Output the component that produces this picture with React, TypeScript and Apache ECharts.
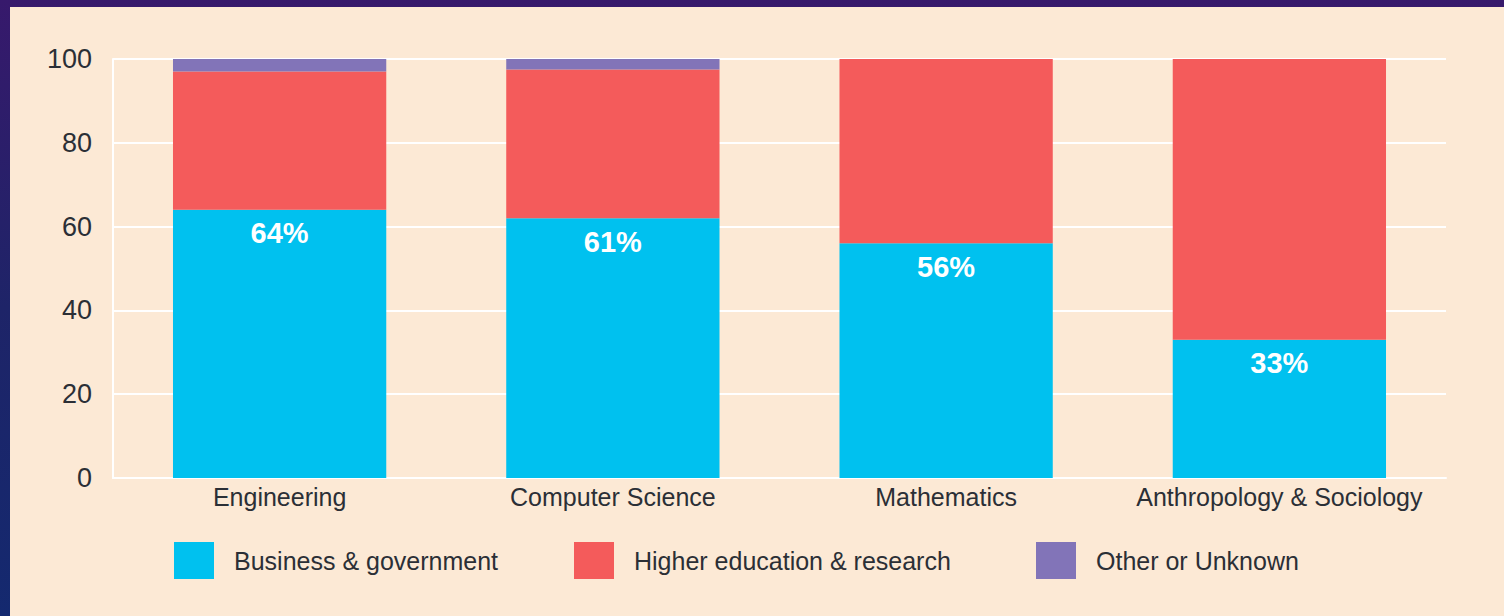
import React, { useEffect, useRef } from "react";
import * as echarts from "echarts";

const categories = ["Engineering", "Computer Science", "Mathematics", "Anthropology & Sociology"];
const businessGov = [64, 62, 56, 33];
const higherEdu = [33, 35.5, 44, 67];
const otherUnknown = [3, 2.5, 0, 0];
const businessLabels = ["64%", "61%", "56%", "33%"];
const seriesNames = ["Business & government", "Higher education & research", "Other or Unknown"];
const yTicks = { min: 0, max: 100, interval: 20 };

const FONT = "'Liberation Sans', Arial, sans-serif";
const TEXT = "#2b2f36";
const COLORS = ["#00c1ef", "#f45b5b", "#8274b8"];

export default function App() {
  const ref = useRef<HTMLDivElement>(null);
  useEffect(() => {
    document.body.style.margin = "0";
    const chart = echarts.init(ref.current!, null, { renderer: "svg" });
    const legendLefts = [174, 574, 1036];
    chart.setOption({
      animation: false,
      backgroundColor: "transparent",
      graphic: [
        {
          type: "rect",
          z: -10,
          silent: true,
          shape: { x: 10, y: 7, width: 1494, height: 609 },
          style: { fill: "#fce9d5" },
        },
      ],
      grid: { left: 113, right: 58, top: 59, bottom: 138, containLabel: false },
      legend: seriesNames.map((n, i) => ({
        data: [n],
        left: legendLefts[i],
        top: 542,
        padding: 0,
        itemWidth: 40,
        itemHeight: 37,
        icon: "rect",
        selectedMode: false,
        textStyle: { color: TEXT, fontFamily: FONT, fontSize: 25, padding: [0, 0, 0, 15] },
      })),
      xAxis: {
        type: "category",
        data: categories,
        axisLine: { show: true, lineStyle: { color: "#ffffff", width: 2 } },
        axisTick: { show: false },
        axisLabel: { color: TEXT, fontFamily: FONT, fontSize: 25, margin: 6, interval: 0 },
      },
      yAxis: {
        type: "value",
        min: yTicks.min,
        max: yTicks.max,
        interval: yTicks.interval,
        axisLine: { show: true, lineStyle: { color: "#ffffff", width: 2 } },
        axisTick: { show: false },
        splitLine: { show: true, lineStyle: { color: "#ffffff", width: 2 } },
        axisLabel: { color: TEXT, fontFamily: FONT, fontSize: 27, margin: 21 },
      },
      series: [
        {
          name: seriesNames[0],
          type: "bar",
          stack: "total",
          barWidth: "64%",
          data: businessGov,
          itemStyle: { color: COLORS[0] },
          label: {
            show: true,
            position: "insideTop",
            distance: 9,
            color: "#ffffff",
            fontFamily: FONT,
            fontWeight: "bold",
            fontSize: 29,
            formatter: (p: any) => businessLabels[p.dataIndex],
          },
        },
        {
          name: seriesNames[1],
          type: "bar",
          stack: "total",
          data: higherEdu,
          itemStyle: { color: COLORS[1] },
        },
        {
          name: seriesNames[2],
          type: "bar",
          stack: "total",
          data: otherUnknown,
          itemStyle: { color: COLORS[2] },
        },
      ],
    });
    return () => chart.dispose();
  }, []);
  return (
    <div
      ref={ref}
      style={{
        width: 1504,
        height: 616,
        background: "linear-gradient(180deg, #37196c 0%, #1e2468 50%, #14296f 100%)",
      }}
    />
  );
}
